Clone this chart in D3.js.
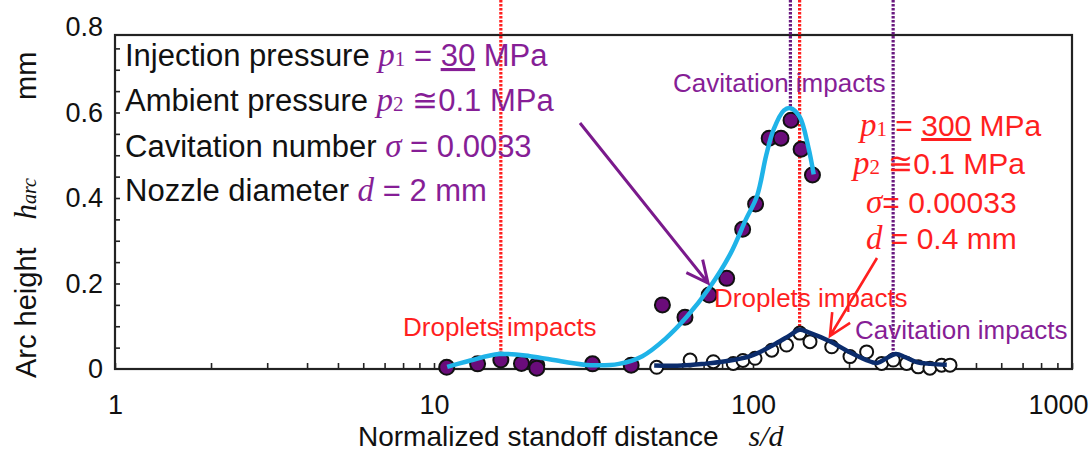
<!DOCTYPE html>
<meta charset="utf-8">
<head>
    <title>Arc height vs normalized standoff distance</title>
<style>
    body { margin: 0; background: #fff; }
    svg { display: block; font-family: "Liberation Sans", Arial, sans-serif; }
    .sym { font-family: "Liberation Serif", "Times New Roman", serif; font-style: italic; }
    .sub { font-family: "Liberation Serif", "Times New Roman", serif; font-style: normal; }
</style>
</head>
<div id="graph_div"></div>
<script src="https://d3js.org/d3.v7.min.js"></script>
<script>
    // ticks
    var xTicks = [1, 10, 100, 1000];
    var yTicks = [0, 0.2, 0.4, 0.6, 0.8];

    // p1 = 30 MPa, d = 2 mm (filled purple dots)
    var lowSD = [10.96, 13.7, 16.2, 18.8, 21.0, 21.0, 31.4, 41.5, 52.0, 61.2, 72.9, 82.7, 92.8, 101.9, 112.4, 122.4, 131.6, 141.5, 153.6];
    var lowH  = [0.004, 0.012, 0.021, 0.013, 0.009, 0.002, 0.012, 0.009, 0.150, 0.121, 0.173, 0.212, 0.327, 0.386, 0.540, 0.540, 0.582, 0.514, 0.454];
    // fitted curve for it (light blue)
    var lowFitSD = [11, 13, 16, 20, 25, 31, 38, 45, 53, 62, 73, 85, 95, 103, 110, 116, 125, 131, 140, 149, 155];
    var lowFitH  = [0.005, 0.02, 0.035, 0.03, 0.018, 0.009, 0.012, 0.03, 0.07, 0.122, 0.19, 0.27, 0.35, 0.405, 0.5, 0.56, 0.605, 0.61, 0.59, 0.52, 0.455];

    // p1 = 300 MPa, d = 0.4 mm (open circles)
    var highSD = [49.9, 63.5, 75.1, 86.7, 93, 101.5, 114.5, 127.4, 140.2, 150.9, 176.5, 201.4, 227.1, 253.1, 275.2, 303.1, 329.6, 358.6, 390.2, 414.6];
    var highH  = [0.004, 0.021, 0.017, 0.013, 0.02, 0.025, 0.044, 0.056, 0.084, 0.064, 0.052, 0.029, 0.040, 0.013, 0.021, 0.013, 0.005, 0.002, 0.009, 0.009];
    // fitted curve for it (dark blue)
    var highFitSD = [49, 60, 70, 82, 98, 115, 130, 140, 150, 174, 200, 225, 245, 262, 280, 300, 326, 360, 405];
    var highFitH  = [0.008, 0.008, 0.012, 0.018, 0.03, 0.055, 0.078, 0.092, 0.085, 0.065, 0.04, 0.022, 0.014, 0.025, 0.035, 0.028, 0.016, 0.012, 0.01];

    // dotted marker lines: s/d position and the height where they stop
    var redMarkSD = [16.2, 140];
    var redMarkH  = [0.035, 0.092];
    var purpleMarkSD = [131, 275];
    var purpleMarkH  = [0.61, 0.035];

    var purple = "#861e96", dotPurple = "#6a0c7a", red = "#ff1f1f",
        cyan = "#1fb3e8", navy = "#0b2c6c";

    var W = 1091, H = 459;
    var mLeft = 115, mRight = 1072, mTop = 35, mBottom = 369;

    var svg = d3.select("#graph_div")
      .append("svg")
        .attr("width", W)
        .attr("height", H);

    var x = d3.scaleLog().domain([1, 1000]).range([mLeft, mRight]);
    var y = d3.scaleLinear().domain([0, 0.8]).range([mBottom, 27]);

    // minor ticks, pointing inside
    svg.append("g")
        .attr("transform", "translate(0," + mBottom + ")")
        .call(d3.axisBottom(x).tickValues(x.ticks()).tickSize(-6).tickFormat(""))
        .call(g => g.select(".domain").remove());
    svg.append("g")
        .attr("transform", "translate(" + mLeft + ",0)")
        .call(d3.axisRight(y).tickValues(d3.range(0.05, 0.8, 0.05)).tickSize(5).tickFormat(""))
        .call(g => g.select(".domain").remove());
    svg.selectAll(".tick line").attr("stroke", "#222").attr("stroke-width", 1.6);

    // tick labels
    var xAxis = svg.append("g")
        .attr("transform", "translate(0," + mBottom + ")")
        .call(d3.axisBottom(x).tickValues(xTicks).tickSize(0).tickPadding(26).tickFormat(d3.format("d")));
    xAxis.select(".domain").remove();
    xAxis.selectAll("text").attr("font-size", 27).attr("fill", "#111").attr("font-family", null);
    xAxis.selectAll("text").filter(d => d === 1000).attr("dx", -14);

    var yAxis = svg.append("g")
        .attr("transform", "translate(" + mLeft + ",0)")
        .call(d3.axisLeft(y).tickValues(yTicks).tickSize(0).tickPadding(12)
            .tickFormat(d => d === 0 ? "0" : d3.format(".1f")(d)));
    yAxis.select(".domain").remove();
    yAxis.selectAll("text").attr("font-size", 27).attr("fill", "#111").attr("font-family", null);

    // frame
    svg.append("rect")
        .attr("x", mLeft).attr("y", mTop)
        .attr("width", mRight - mLeft).attr("height", mBottom - mTop)
        .attr("fill", "none").attr("stroke", "#222").attr("stroke-width", 2.2);

    // dotted marker lines
    svg.selectAll(".redmark")
      .data(redMarkSD)
      .enter().append("line")
        .attr("x1", d => x(d)).attr("x2", d => x(d))
        .attr("y1", 0).attr("y2", (d, i) => y(redMarkH[i]))
        .attr("stroke", red).attr("stroke-width", 3.2).attr("stroke-dasharray", "2.5,1.5");
    svg.selectAll(".purplemark")
      .data(purpleMarkSD)
      .enter().append("line")
        .attr("x1", d => x(d)).attr("x2", d => x(d))
        .attr("y1", 0).attr("y2", (d, i) => y(purpleMarkH[i]))
        .attr("stroke", "#6a1a80").attr("stroke-width", 3.2).attr("stroke-dasharray", "2.5,1.5");

    // points
    svg.selectAll(".low")
      .data(lowSD)
      .enter().append("circle")
        .attr("cx", d => x(d)).attr("cy", (d, i) => y(lowH[i]))
        .attr("r", 7.5)
        .attr("fill", dotPurple).attr("stroke", "#111").attr("stroke-width", 2);
    svg.selectAll(".high")
      .data(highSD)
      .enter().append("circle")
        .attr("cx", d => x(d)).attr("cy", (d, i) => y(highH[i]))
        .attr("r", 6.5)
        .attr("fill", "#fff").attr("stroke", "#111").attr("stroke-width", 2);

    // fitted curves
    var line = d3.line()
        .x(d => x(d[0])).y(d => y(d[1]))
        .curve(d3.curveCatmullRom.alpha(0.5));
    svg.append("path")
        .attr("d", line(lowFitSD.map((d, i) => [d, lowFitH[i]])))
        .attr("fill", "none").attr("stroke", cyan).attr("stroke-width", 4.5);
    svg.append("path")
        .attr("d", line(highFitSD.map((d, i) => [d, highFitH[i]])))
        .attr("fill", "none").attr("stroke", navy).attr("stroke-width", 4.5);

    // arrows
    function arrow(x1, y1, x2, y2, color, w) {
        var a = Math.atan2(y2 - y1, x2 - x1), L = 24, s = 0.45;
        var p = "M" + x1 + "," + y1 + "L" + x2 + "," + y2 +
            "M" + (x2 - L * Math.cos(a - s)) + "," + (y2 - L * Math.sin(a - s)) +
            "L" + x2 + "," + y2 +
            "L" + (x2 - L * Math.cos(a + s)) + "," + (y2 - L * Math.sin(a + s));
        svg.append("path").attr("d", p).attr("fill", "none")
            .attr("stroke", color).attr("stroke-width", w);
    }
    arrow(580, 123, 708, 283, "#7a1a8c", 3);
    arrow(877, 258, 830, 336, red, 2.6);

    // legend block, upper left
    function row(yy, label, sym, sub, rest, under, tail) {
        var t = svg.append("text").attr("x", 125).attr("y", yy).attr("font-size", 31).attr("fill", purple);
        t.append("tspan").attr("fill", "#111").text(label);
        t.append("tspan").attr("class", "sym").attr("font-size", 33).text(sym);
        if (sub) t.append("tspan").attr("class", "sub").attr("font-size", 21).text(sub);
        t.append("tspan").text(rest);
        if (under) t.append("tspan").attr("text-decoration", "underline").text(under);
        if (tail) t.append("tspan").text(tail);
    }
    row(66, "Injection pressure ", "p", "1", " = ", "30", " MPa");
    row(111, "Ambient pressure ", "p", "2", " \u22450.1 MPa");
    row(157, "Cavitation number ", "\u03c3", null, " = 0.0033");
    row(201, "Nozzle diameter ", "d", null, " = 2 mm");

    // red block, right
    function redRow(xx, yy, sym, sub, rest, under, tail) {
        var t = svg.append("text").attr("x", xx).attr("y", yy).attr("font-size", 30).attr("fill", red);
        t.append("tspan").attr("class", "sym").attr("font-size", 33).text(sym);
        if (sub) t.append("tspan").attr("class", "sub").attr("font-size", 21).text(sub);
        t.append("tspan").text(rest);
        if (under) t.append("tspan").attr("text-decoration", "underline").text(under);
        if (tail) t.append("tspan").text(tail);
    }
    redRow(860, 136, "p", "1", " = ", "300", " MPa");
    redRow(853, 174, "p", "2", " \u22450.1 MPa");
    redRow(866, 213, "\u03c3", null, "= 0.00033");
    redRow(866, 249, "d", null, " = 0.4 mm");

    // annotations
    function note(xx, yy, txt, color) {
        svg.append("text").attr("x", xx).attr("y", yy)
            .attr("font-size", 26).attr("fill", color).text(txt);
    }
    note(673, 92, "Cavitation impacts", purple);
    note(403, 336, "Droplets impacts", red);
    note(714, 307, "Droplets impacts", red);
    note(855, 339, "Cavitation impacts", purple);

    // axis titles
    var xt = svg.append("text").attr("x", 358).attr("y", 446).attr("font-size", 28).attr("fill", "#111");
    xt.append("tspan").text("Normalized standoff distance");
    xt.append("tspan").attr("class", "sym").attr("dx", 30).attr("font-size", 30).text("s/d");

    var yt = svg.append("text").attr("transform", "translate(36,378) rotate(-90)")
        .attr("font-size", 29).attr("fill", "#111");
    yt.append("tspan").text("Arc height");
    yt.append("tspan").attr("class", "sym").attr("dx", 28).attr("font-size", 31).text("h");
    yt.append("tspan").attr("class", "sym").attr("font-size", 20).text("arc");
    yt.append("tspan").attr("dx", 78).text("mm");
</script>
